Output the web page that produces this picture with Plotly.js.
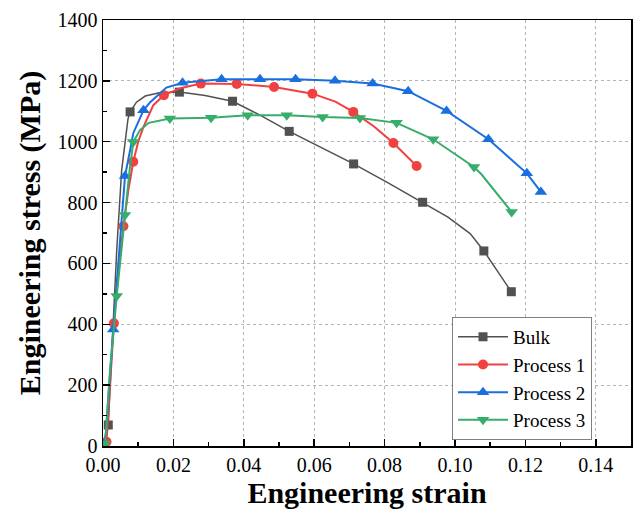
<!DOCTYPE html>
<html>
<head>
<meta charset="utf-8">
<script src="https://cdn.plot.ly/plotly-3.0.1.min.js"></script>
<style>html,body{margin:0;padding:0;background:#fff;}#chart{width:634px;height:525px;}</style>
</head>
<body>
<div id="chart"></div>
<script>
// Curves (engineering strain, engineering stress in MPa)
const bulkStrain = [0, 0.0008, 0.0015, 0.0025, 0.0039, 0.0053, 0.0071, 0.0077, 0.0095, 0.012, 0.016, 0.0217, 0.029, 0.0368, 0.045, 0.0529, 0.062, 0.0712, 0.081, 0.0908, 0.098, 0.1043, 0.1082, 0.116];
const bulkStress = [0, 20, 69, 300, 644, 906, 1075, 1098, 1130, 1150, 1161, 1163, 1152, 1133, 1085, 1034, 980, 927, 865, 801, 752, 698, 641, 507];

const p1Strain = [0, 0.001, 0.0031, 0.0045, 0.0058, 0.0072, 0.0086, 0.010, 0.0115, 0.0143, 0.0173, 0.022, 0.0278, 0.038, 0.0486, 0.0595, 0.066, 0.0711, 0.077, 0.0825, 0.0891];
const p1Stress = [0, 14, 403, 590, 722, 840, 934, 1000, 1049, 1120, 1153, 1176, 1191, 1190, 1180, 1158, 1132, 1098, 1050, 996, 920];

const p2Strain = [0, 0.0008, 0.0029, 0.0045, 0.00625, 0.008, 0.0086, 0.0115, 0.0134, 0.018, 0.0226, 0.0337, 0.0446, 0.0547, 0.0659, 0.0766, 0.0867, 0.0976, 0.1095, 0.1204, 0.1244];
const p2Stress = [0, 40, 383, 640, 887, 990, 1028, 1103, 1130, 1178, 1194, 1205, 1205, 1205, 1200, 1191, 1166, 1101, 1008, 896, 835];

const p3Strain = [0, 0.0006, 0.002, 0.0039, 0.00625, 0.0075, 0.0086, 0.0105, 0.013, 0.019, 0.0307, 0.0411, 0.0522, 0.0624, 0.073, 0.0834, 0.0938, 0.1054, 0.1075, 0.1161];
const p3Stress = [0, 7, 250, 493, 759, 900, 999, 1038, 1062, 1076, 1079, 1087, 1087, 1081, 1078, 1062, 1008, 917, 893, 769];

// Marker points
const bulkMkStrain = [0.0015, 0.0077, 0.0217, 0.0368, 0.0529, 0.0712, 0.0908, 0.1082, 0.116];
const bulkMkStress = [69, 1098, 1163, 1133, 1034, 927, 801, 641, 507];
const p1MkStrain = [0.001, 0.0031, 0.0058, 0.0086, 0.0173, 0.0278, 0.038, 0.0486, 0.0595, 0.0711, 0.0825, 0.0891];
const p1MkStress = [14, 403, 722, 934, 1153, 1191, 1190, 1180, 1158, 1098, 996, 920];
const p2MkStrain = [0.0029, 0.00625, 0.0115, 0.0226, 0.0337, 0.0446, 0.0547, 0.0659, 0.0766, 0.0867, 0.0976, 0.1095, 0.1204, 0.1244];
const p2MkStress = [383, 887, 1103, 1194, 1205, 1205, 1205, 1200, 1191, 1166, 1101, 1008, 896, 835];
const p3MkStrain = [0.0006, 0.0039, 0.00625, 0.0086, 0.019, 0.0307, 0.0411, 0.0522, 0.0624, 0.073, 0.0834, 0.0938, 0.1054, 0.1161];
const p3MkStress = [7, 493, 759, 999, 1076, 1079, 1087, 1087, 1081, 1078, 1062, 1008, 917, 769];

const seriesNames = ['Bulk', 'Process 1', 'Process 2', 'Process 3'];
const xTickVals = [0, 0.02, 0.04, 0.06, 0.08, 0.10, 0.12, 0.14];
const yTickVals = [0, 200, 400, 600, 800, 1000, 1200, 1400];

const series = [
  {name: seriesNames[0], x: bulkStrain, y: bulkStress, mx: bulkMkStrain, my: bulkMkStress, color: '#515151', lw: 1.5, sym: 'square', ms: 9},
  {name: seriesNames[1], x: p1Strain, y: p1Stress, mx: p1MkStrain, my: p1MkStress, color: '#F14040', lw: 2, sym: 'circle', ms: 10},
  {name: seriesNames[2], x: p2Strain, y: p2Stress, mx: p2MkStrain, my: p2MkStress, color: '#1A6FDF', lw: 2, sym: 'triangle-up', ms: 11},
  {name: seriesNames[3], x: p3Strain, y: p3Stress, mx: p3MkStrain, my: p3MkStress, color: '#37AD6B', lw: 2, sym: 'triangle-down', ms: 11}
];

const traces = [];
series.forEach(s => {
  traces.push({x: s.x, y: s.y, mode: 'lines', line: {color: s.color, width: s.lw}, showlegend: false, legendgroup: s.name, hoverinfo: 'skip'});
  traces.push({x: s.mx, y: s.my, mode: 'markers', marker: {color: s.color, symbol: s.sym, size: s.ms}, showlegend: false, legendgroup: s.name});
  traces.push({x: [null], y: [null], mode: 'lines+markers', name: s.name, legendgroup: s.name,
    line: {color: s.color, width: s.lw}, marker: {color: s.color, symbol: s.sym, size: s.ms}});
});

const serif = 'Times New Roman';
const layout = {
  width: 634, height: 525,
  margin: {l: 103, r: 3, t: 20, b: 79},
  paper_bgcolor: '#fff', plot_bgcolor: '#fff',
  font: {family: serif, color: '#000', size: 20},
  showlegend: true,
  xaxis: {
    range: [0, 0.15], tickvals: xTickVals, tickformat: '.2f',
    ticks: 'inside', ticklen: 7, tickwidth: 1.5, tickcolor: '#000',
    minor: {dtick: 0.01, ticks: 'inside', ticklen: 4, tickwidth: 1.5, tickcolor: '#000', showgrid: false},
    showline: true, linewidth: 1.5, linecolor: '#000', mirror: true,
    showgrid: true, gridcolor: '#b4b4b4', griddash: '3px,3px', gridwidth: 1,
    zeroline: false, tickfont: {size: 20, family: serif},
    title: {text: '<b>Engineering strain</b>', font: {size: 30, family: serif}, standoff: 7}
  },
  yaxis: {
    range: [0, 1400], tickvals: yTickVals,
    ticks: 'inside', ticklen: 7, tickwidth: 1.5, tickcolor: '#000',
    minor: {dtick: 100, ticks: 'inside', ticklen: 4, tickwidth: 1.5, tickcolor: '#000', showgrid: false},
    showline: true, linewidth: 1.5, linecolor: '#000', mirror: true,
    showgrid: true, gridcolor: '#b4b4b4', griddash: '3px,3px', gridwidth: 1,
    zeroline: false, tickfont: {size: 20, family: serif},
    title: {text: '<b>Engineering stress (MPa)</b>', font: {size: 30, family: serif}, standoff: 8}
  },
  legend: {
    x: 0.661, y: 0.303, xanchor: 'left', yanchor: 'top',
    bgcolor: '#fff', bordercolor: '#7f7f7f', borderwidth: 1,
    font: {size: 19, family: serif}, itemwidth: 50, tracegroupgap: 0
  }
};

Plotly.newPlot('chart', traces, layout, {staticPlot: true});
</script>
</body>
</html>
